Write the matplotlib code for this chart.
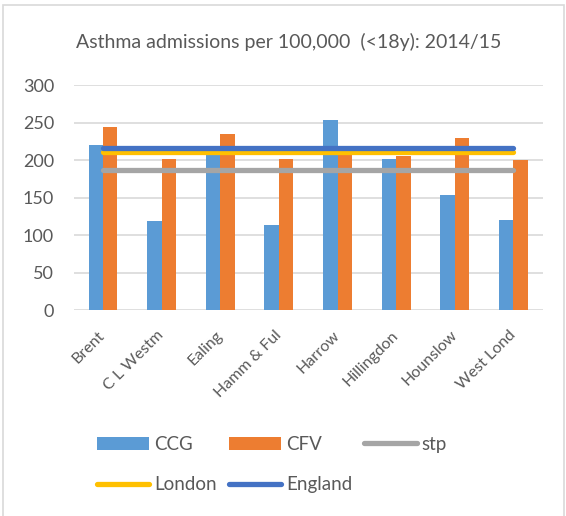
import matplotlib
matplotlib.use("Agg")
import matplotlib.pyplot as plt
import numpy as np
from matplotlib.patches import Rectangle

categories = ["Brent", "C L Westm", "Ealing", "Hamm & Ful", "Harrow",
              "Hillingdon", "Hounslow", "West Lond"]
ccg = [220, 119, 209, 113, 253, 201, 153, 120]
cfv = [244, 202, 235, 202, 209, 206, 230, 200]
stp = [187] * 8
london = [211] * 8
england = [216] * 8
yticks = [0, 50, 100, 150, 200, 250, 300]

plt.rcParams["font.family"] = ["Lato", "DejaVu Sans"]
text_color = "#595959"

fig = plt.figure(figsize=(5.66, 5.16), dpi=100)
ax = fig.add_axes([0.130, 0.399, 0.829, 0.436])

x = np.arange(len(categories))
w = 0.245
ax.bar(x - w / 2, ccg, width=w, color="#5B9BD5", zorder=2, label="CCG")
ax.bar(x + w / 2, cfv, width=w, color="#ED7D31", zorder=2, label="CFV")
ax.plot(x, stp, color="#A5A5A5", lw=3.8, solid_capstyle="round", zorder=3, label="stp")
ax.plot(x, london, color="#FFC000", lw=3.8, solid_capstyle="round", zorder=3, label="London")
ax.plot(x, england, color="#4472C4", lw=3.8, solid_capstyle="round", zorder=4, label="England")

ax.set_xlim(-0.5, len(categories) - 0.5)
ax.set_ylim(0, 300)
ax.set_yticks(yticks)
ax.grid(axis="y", color="#D9D9D9", lw=1.2, zorder=0)
for s in ax.spines.values():
    s.set_visible(False)
ax.tick_params(axis="both", length=0, colors=text_color)
ax.tick_params(axis="y", pad=14, labelsize=13)
ax.set_xticks(x)
ax.set_xticklabels(categories, rotation=45, ha="right", va="center",
                   rotation_mode="anchor", fontsize=11.5)
ax.tick_params(axis="x", pad=16.5)

fig.text(0.51, 0.919, "Asthma admissions per 100,000  (<18y): 2014/15",
         ha="center", va="center", fontsize=14, color=text_color)

# Legend: bars and lines in Excel-style row order (CCG, CFV, stp / London, England)
handles, labels = ax.get_legend_handles_labels()
hmap = dict(zip(labels, handles))
order = ["CCG", "London", "CFV", "England", "stp"]
fig.legend([hmap[k] for k in order], order, loc="upper left",
           bbox_to_anchor=(0.171, 0.155), ncol=3, frameon=False,
           fontsize=13.5, handlelength=2.8, handletextpad=0.27,
           columnspacing=0.62, labelspacing=1.25, labelcolor=text_color,
           borderaxespad=0, borderpad=0)

# Thin chart-area border
fig.patches.append(Rectangle((0.006, -0.01), 0.99, 1.0, transform=fig.transFigure,
                             fill=False, edgecolor="#D9D9D9", lw=1.2))

fig.savefig("out.png", dpi=100)
